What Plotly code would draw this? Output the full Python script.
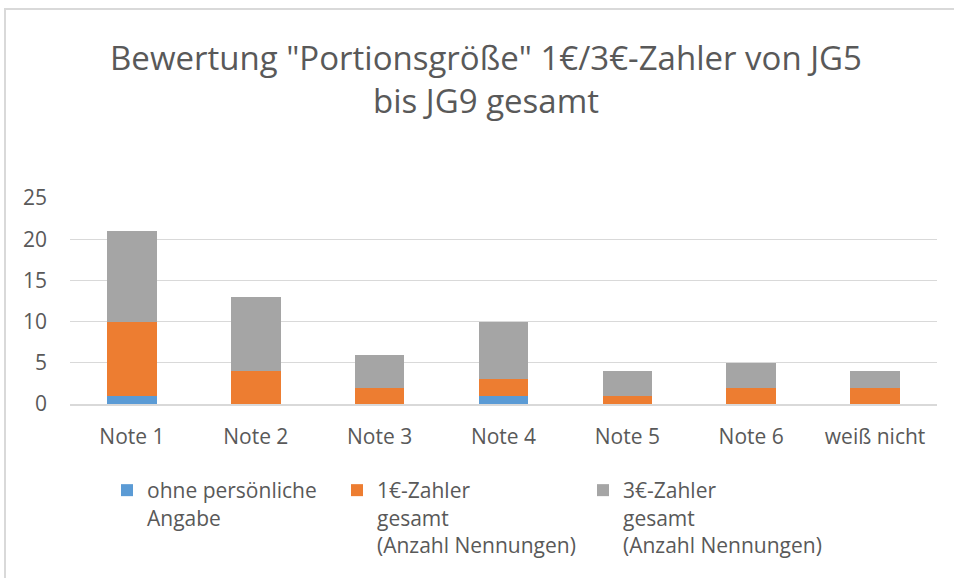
import plotly.graph_objects as go

categories = ["Note 1", "Note 2", "Note 3", "Note 4", "Note 5", "Note 6", "weiß nicht"]
ohne_angabe = [1, 0, 0, 1, 0, 0, 0]
zahler_1 = [9, 4, 2, 2, 1, 2, 2]
zahler_3 = [11, 9, 4, 7, 3, 3, 2]
series_names = [
    "ohne persönliche<br>Angabe",
    "1€-Zahler<br>gesamt<br>(Anzahl Nennungen)",
    "3€-Zahler<br>gesamt<br>(Anzahl Nennungen)",
]
colors = ["#5b9bd5", "#ed7d31", "#a5a5a5"]
y_ticks = [0, 5, 10, 15, 20, 25]

FONT = "Open Sans"
TXT = "#595959"

W, H = 954, 578
L, R, T, B = 70, 17, 198, 174
pw, ph = W - L - R, H - T - B

def px_x(x):
    return (x - L) / pw

def px_y(y):
    return (H - B - y) / ph

legend_ids = ["legend", "legend2", "legend3"]
legend_left = [107, 337, 583]

fig = go.Figure()
for name, vals, col, lid in zip(series_names, [ohne_angabe, zahler_1, zahler_3], colors, legend_ids):
    fig.add_trace(go.Bar(x=categories, y=vals, name=name, legend=lid,
                         marker=dict(color=col, line=dict(width=0))))

legend_common = dict(
    orientation="h", xanchor="left", y=px_y(470), yanchor="top",
    valign="top", font=dict(size=21, color=TXT, family=FONT),
    itemwidth=30, bgcolor="rgba(0,0,0,0)",
)

fig.update_layout(
    width=W, height=H,
    barmode="stack", bargap=0.6,
    paper_bgcolor="white", plot_bgcolor="white",
    margin=dict(l=L, r=R, t=T, b=B, autoexpand=False),
    font=dict(family=FONT, color=TXT, size=21),
    title=dict(
        text='Bewertung "Portionsgröße" 1€/3€-Zahler von JG5<br>bis JG9 gesamt',
        x=486 / W, xref="container", xanchor="center",
        y=1 - 70 / H, yref="container", yanchor="top",
        font=dict(family=FONT, size=33, color=TXT),
    ),
    xaxis=dict(
        showline=True, linecolor="#d9d9d9", linewidth=1.5,
        ticks="", tickfont=dict(size=21, color=TXT),
        ticklabelstandoff=13,
    ),
    yaxis=dict(
        range=[0, 25], tickvals=y_ticks,
        showgrid=True, gridcolor="#d9d9d9", gridwidth=1,
        zeroline=False, showline=False, ticks="",
        tickfont=dict(size=21, color=TXT),
        ticklabelstandoff=22,
    ),
    legend=dict(x=px_x(legend_left[0]), **legend_common),
    legend2=dict(x=px_x(legend_left[1]), **legend_common),
    legend3=dict(x=px_x(legend_left[2]), **legend_common),
    showlegend=True,
    shapes=[
        dict(type="rect", xref="paper", yref="paper",
             x0=px_x(5), x1=px_x(W + 10), y0=px_y(H + 10), y1=px_y(9),
             line=dict(color="#d9d9d9", width=2), fillcolor="rgba(0,0,0,0)", layer="below"),
    ],
)

fig.write_html("out.html", config={"displayModeBar": False},
               post_script="document.body.style.margin='0';")
